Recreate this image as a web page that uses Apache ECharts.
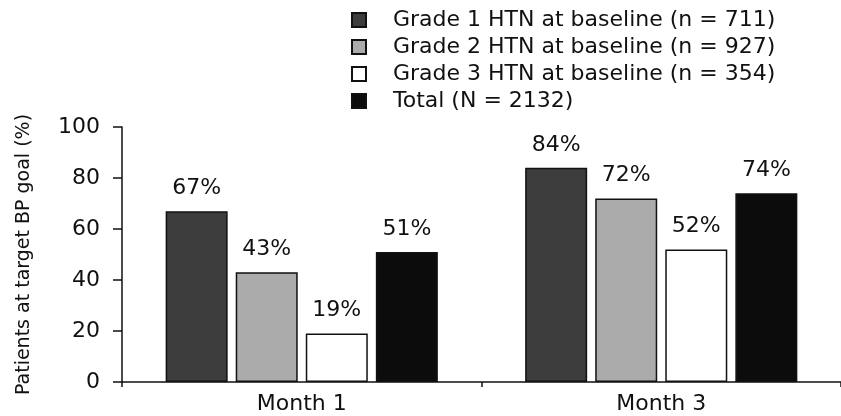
<!DOCTYPE html>
<html><head><meta charset="utf-8">
<script src="https://cdn.jsdelivr.net/npm/echarts@6/dist/echarts.min.js"></script>
<style>html,body{margin:0;padding:0;background:#fff}#c{width:841px;height:416px}</style>
</head><body><div id="c"></div>
<script>
const categories = ['Month 1', 'Month 3'];
const seriesNames = ['Grade 1 HTN at baseline (n = 711)', 'Grade 2 HTN at baseline (n = 927)', 'Grade 3 HTN at baseline (n = 354)', 'Total (N = 2132)'];
const grade1 = [67, 84];
const grade2 = [43, 72];
const grade3 = [19, 52];
const total = [51, 74];
const colors = ['#3c3c3c', '#ababab', '#ffffff', '#0c0c0c'];
const font = 'DejaVu Sans, Verdana, sans-serif';
const allData = [grade1, grade2, grade3, total];
const chart = echarts.init(document.getElementById('c'), null, {renderer: 'canvas'});
chart.setOption({
  animation: false,
  backgroundColor: '#fff',
  textStyle: {fontFamily: font, color: '#111'},
  legend: {
    orient: 'vertical', left: 346, top: 4,
    itemWidth: 14, itemHeight: 14, itemGap: 5,
    icon: 'rect',
    textStyle: {fontFamily: font, fontSize: 22, color: '#111', padding: [0, 0, 0, 22], lineHeight: 22},
    data: seriesNames
  },
  grid: {left: 122, top: 127, width: 724, bottom: 34, containLabel: false},
  xAxis: {
    type: 'category', data: categories,
    axisLine: {lineStyle: {color: '#111', width: 1.5}},
    axisTick: {show: true, length: 5, lineStyle: {color: '#111', width: 1.5}},
    axisLabel: {fontFamily: font, fontSize: 22, color: '#111', margin: 11}
  },
  yAxis: {
    type: 'value', min: 0, max: 100, interval: 20,
    name: 'Patients at target BP goal (%)', nameLocation: 'middle', nameGap: 88,
    nameTextStyle: {fontFamily: font, fontSize: 19, color: '#111'},
    axisLine: {show: true, lineStyle: {color: '#111', width: 1.5}},
    axisTick: {show: true, length: 9, lineStyle: {color: '#111', width: 1.5}},
    axisLabel: {fontFamily: font, fontSize: 22, color: '#111', margin: 22},
    splitLine: {show: false}
  },
  series: allData.map((d, i) => ({
    name: seriesNames[i], type: 'bar', data: d,
    barWidth: 62, barGap: '13%',
    itemStyle: {color: colors[i], borderColor: '#111', borderWidth: 1.5},
    label: {show: true, position: 'top', distance: 12, formatter: '{c}%', fontFamily: font, fontSize: 22, color: '#111'}
  }))
});
</script></body></html>
